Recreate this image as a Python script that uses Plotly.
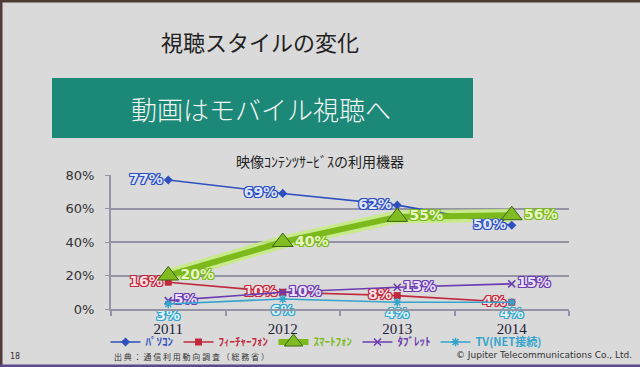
import plotly.graph_objects as go

years = ["2011", "2012", "2013", "2014"]
pc = [77, 69, 62, 50]
feature_phone = [16, 10, 8, 4]
smartphone = [20, 40, 55, 56]
tablet = [5, 10, 13, 15]
tv = [3, 6, 4, 4]

names = ["ﾊﾟｿｺﾝ", "ﾌｨｰﾁｬｰﾌｫﾝ", "ｽﾏｰﾄﾌｫﾝ", "ﾀﾌﾞﾚｯﾄ", "TV(NET接続)"]
y_ticks = [0, 20, 40, 60, 80]

W, H = 640, 367
BG = "#dadada"
GRID = "#9494a6"

def outline(c):
    return ",".join(f"{dx}px {dy}px 0 {c}" for dx, dy in
                    [(-1, -1), (1, -1), (-1, 1), (1, 1), (0, 1), (1, 0), (-1, 0), (0, -1)])

def lab(vals):
    return [f"{v}%" for v in vals]

def py(px):
    return 1 - px / H

fig = go.Figure()

# smartphone glow
fig.add_trace(go.Scatter(x=years, y=smartphone, mode="lines", showlegend=False,
                         line=dict(color="rgba(195,238,120,0.8)", width=13),
                         hoverinfo="skip"))

series = [
    (pc, names[0], "#2f4fbf", "#dfe6ff", "diamond", 7, 1.6, "middle left"),
    (feature_phone, names[1], "#c0283c", "#ffe0e4", "square", 7, 1.6, "middle left"),
    (smartphone, names[2], "#7cba1c", "#e9f7c8", "triangle-up", 18, 6, "middle right"),
    (tablet, names[3], "#6a3cb0", "#ece2ff", "x-thin-open", 7, 1.6, "middle right"),
    (tv, names[4], "#34a4cc", "#def4fb", "asterisk-open", 7, 1.6, "bottom center"),
]

for vals, nm, col, light, sym, ms, lw, tp in series:
    if sym == "triangle-up":
        marker = dict(symbol=sym, size=ms, color="#80bc22",
                      line=dict(color="#3d6410", width=1))
    elif "open" in sym:
        marker = dict(symbol=sym, size=ms, color=col, line=dict(color=col, width=1.5))
    else:
        marker = dict(symbol=sym, size=ms, color=col)
    fig.add_trace(go.Scatter(
        x=years, y=vals, mode="lines+markers+text",
        name=f"<b><span style='color:{col}'>{nm}</span></b>",
        line=dict(color=col, width=lw), marker=marker,
        text=lab(vals), textposition=tp, cliponaxis=False,
        textfont=dict(family="DejaVu Sans", size=14, color=light, weight="bold",
                      shadow=outline(col)),
    ))

def ann(text, x, y, size, color="#222222", family="Noto Sans CJK JP", xa="center", weight=None):
    f = dict(family=family, size=size, color=color)
    if weight:
        f["weight"] = weight
    return dict(text=text, x=x / W, y=py(y), xref="paper", yref="paper",
                xanchor=xa, yanchor="middle", showarrow=False, font=f)

fig.update_layout(
    width=W, height=H,
    margin=dict(l=0, r=0, t=0, b=0, autoexpand=False),
    paper_bgcolor=BG, plot_bgcolor=BG,
    showlegend=True,
    legend=dict(orientation="h", x=326 / W, xanchor="center", y=py(342), yanchor="middle",
                font=dict(family="Noto Sans CJK JP", size=11), bgcolor="rgba(0,0,0,0)",
                itemwidth=30, tracegroupgap=0),
    xaxis=dict(type="category", categoryorder="array", categoryarray=years,
               range=[-0.5, 3.5], domain=[111 / W, 569 / W],
               showline=True, linecolor=GRID, linewidth=2,
               ticks="outside", tickson="boundaries", ticklen=5, tickcolor=GRID, tickwidth=1.5,
               showgrid=False, tickfont=dict(family="Liberation Serif", size=15, color="#1e1e3a"),
               ticklabelstandoff=5, automargin=False),
    yaxis=dict(range=[0, 80], domain=[py(309), py(175)],
               tickvals=y_ticks, ticktext=[f"{v}%" for v in y_ticks],
               showline=True, linecolor=GRID, linewidth=2,
               ticks="outside", ticklen=4, tickcolor=GRID,
               gridcolor=GRID, gridwidth=2, zeroline=False,
               tickfont=dict(family="DejaVu Sans", size=13, color="#333333"),
               ticklabelstandoff=8, automargin=False),
    shapes=[
        dict(type="rect", xref="paper", yref="paper", x0=52 / W, x1=473 / W,
             y0=py(138), y1=py(78), fillcolor="#1b8878", line=dict(width=0), layer="below"),
        dict(type="rect", xref="paper", yref="paper", x0=0, x1=1, y0=py(2.5), y1=1,
             fillcolor="#4a3a30", line=dict(width=0)),
        dict(type="rect", xref="paper", yref="paper", x0=0, x1=2.5 / W, y0=0, y1=1,
             fillcolor="#503a3a", line=dict(width=0)),
        dict(type="rect", xref="paper", yref="paper", x0=0, x1=1, y0=0, y1=2.5 / H,
             fillcolor="#5a4a8c", line=dict(width=0)),
    ],
    annotations=[
        ann("視聴スタイルの変化", 260, 41, 22),
        ann("動画はモバイル視聴へ", 261, 108, 26, color="#f4f4f4", weight=300),
        ann("映像ｺﾝﾃﾝﾂｻｰﾋﾞｽの利用機器", 320, 161, 14),
        ann("18", 8, 356, 8, color="#333333", family="DejaVu Sans", xa="left"),
        ann("出 典 ： 通 信 利 用 動 向 調 査 （ 総 務 省 ）", 112, 356, 8, color="#333333", xa="left"),
        ann("© Jupiter Telecommunications Co., Ltd.", 634, 355, 9, color="#333333",
            family="DejaVu Sans", xa="right"),
    ],
)

fig.write_html("out.html", config={"displayModeBar": False},
               post_script="document.body.style.margin='0';document.body.style.overflow='hidden';")
